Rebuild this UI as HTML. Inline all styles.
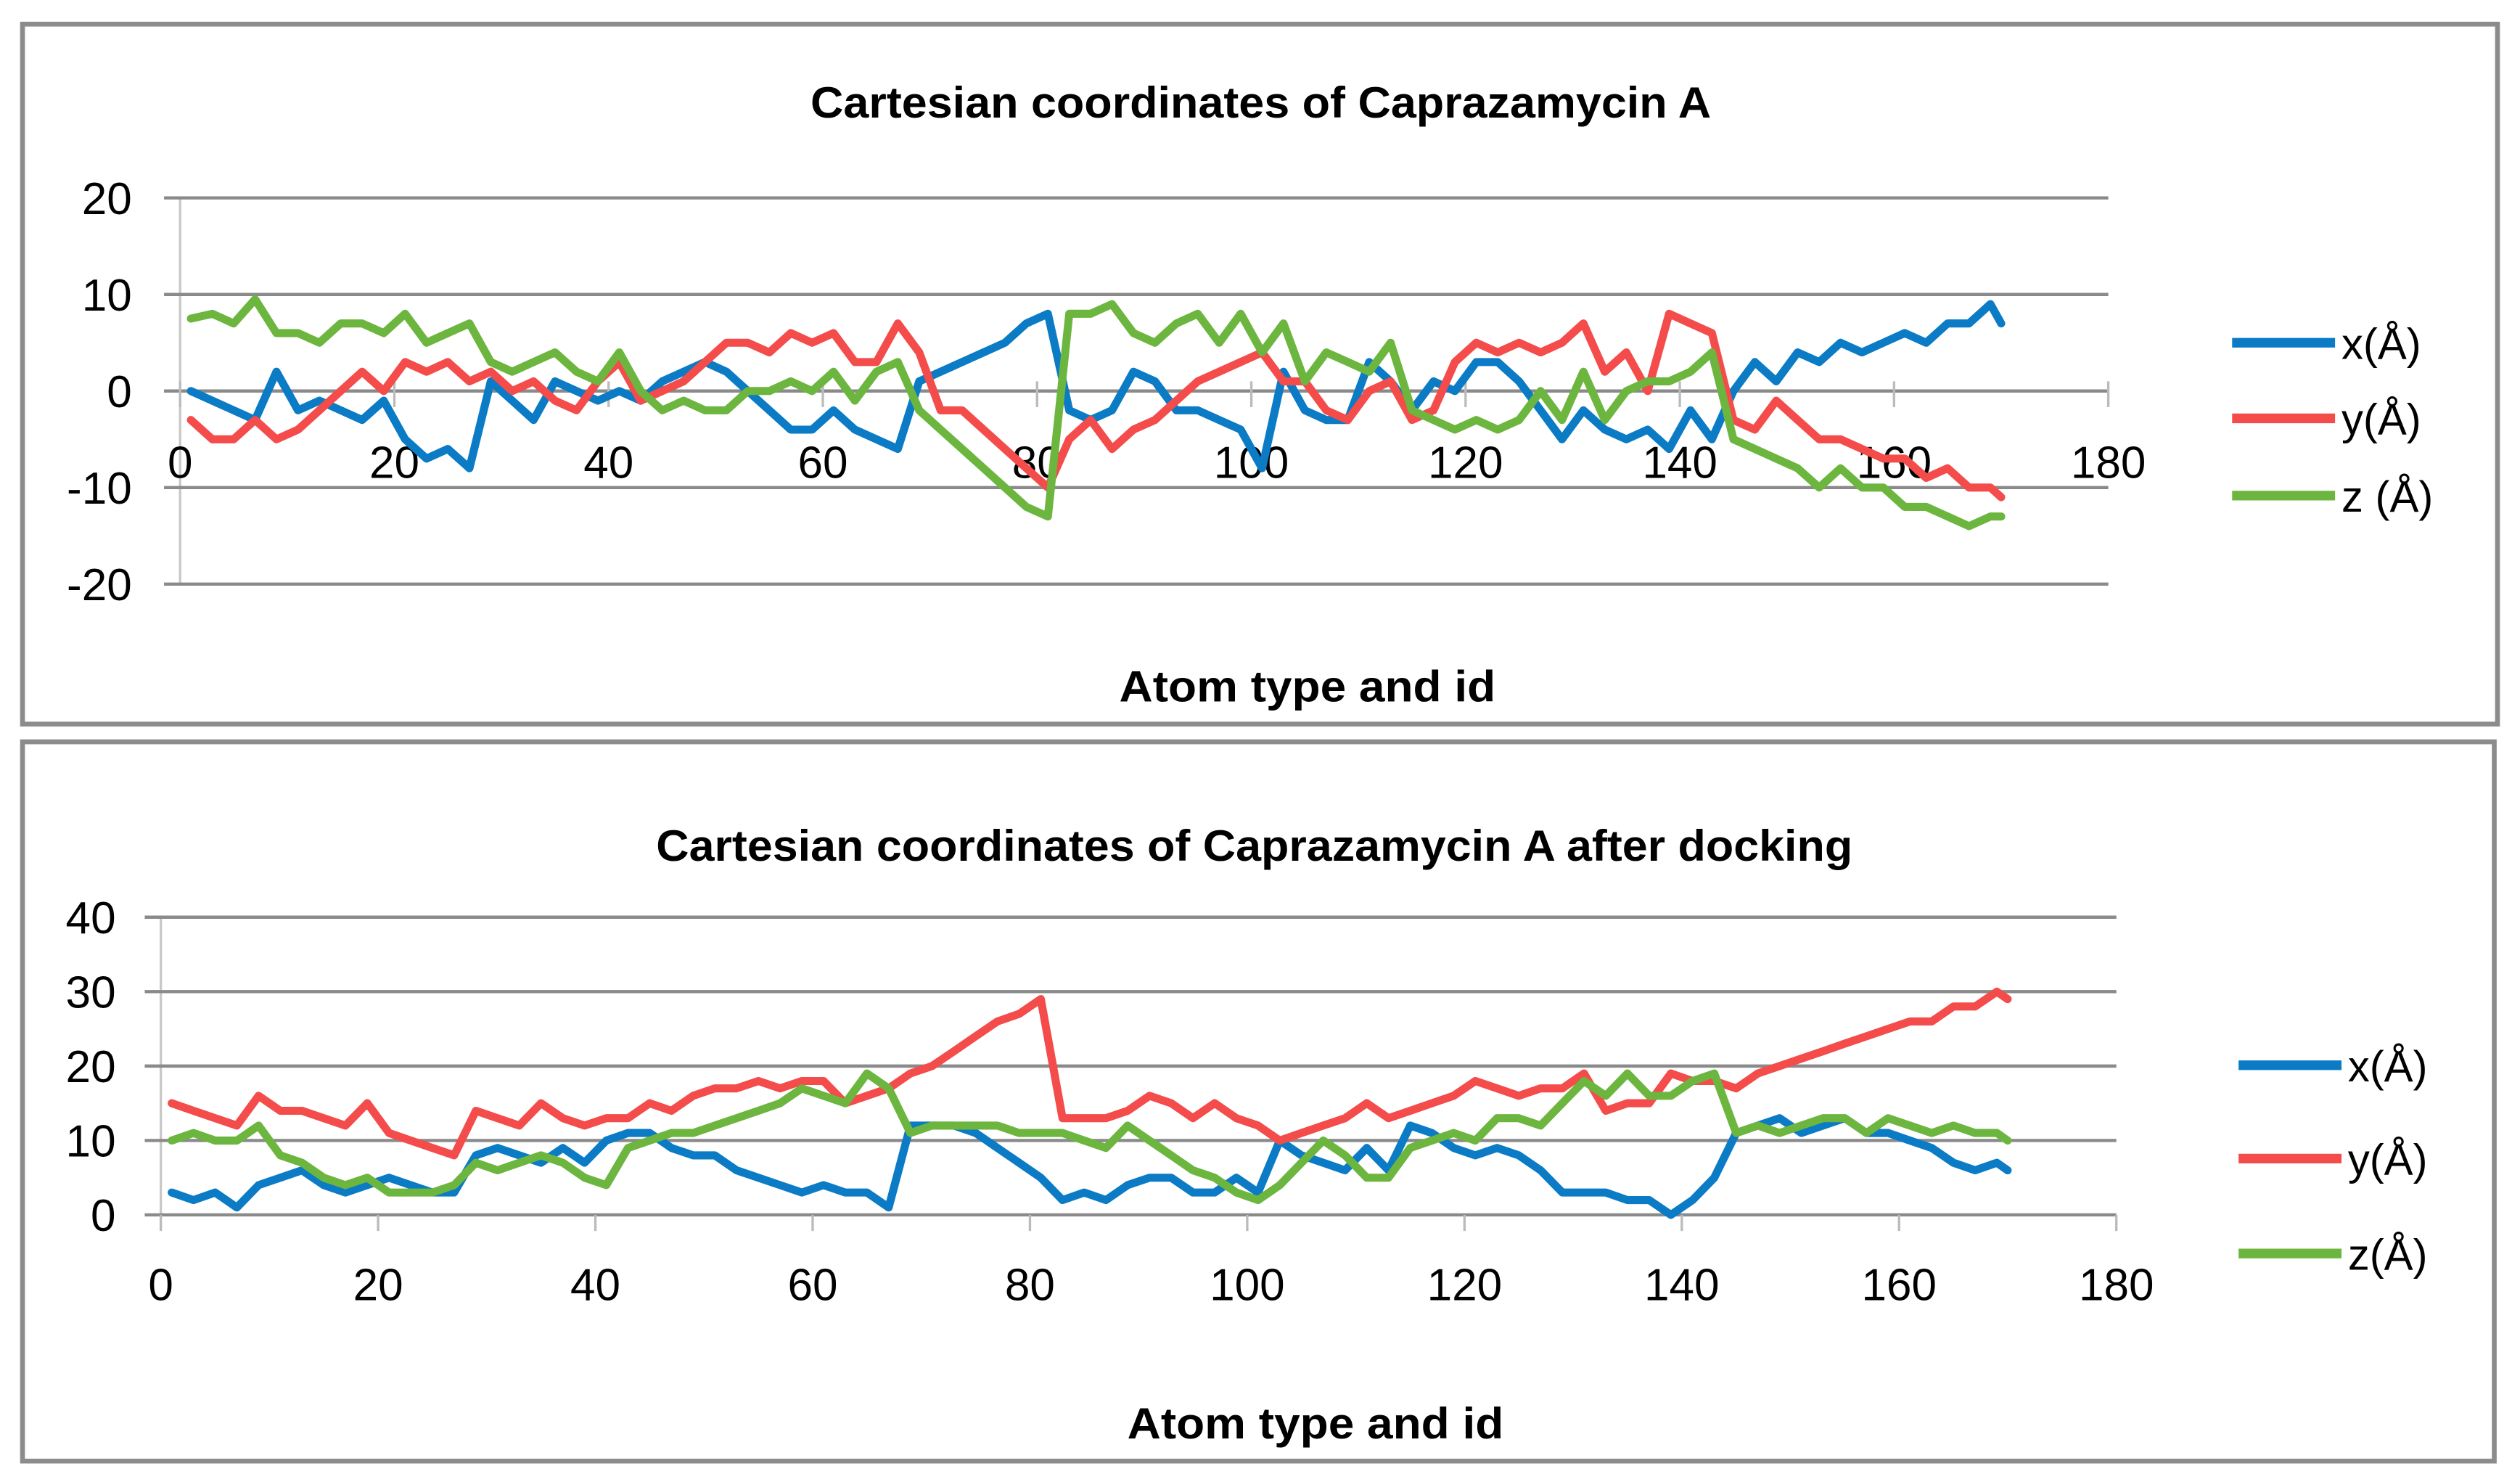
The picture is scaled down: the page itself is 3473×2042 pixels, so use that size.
<!DOCTYPE html>
<html><head><meta charset="utf-8"><style>html,body{margin:0;padding:0;background:#fff}svg{display:block}text{font-family:"Liberation Sans",sans-serif;fill:#000}</style></head>
<body>
<svg id="root" width="3473" height="2042" viewBox="0 0 1567 921" preserveAspectRatio="none" xmlns="http://www.w3.org/2000/svg">
<rect x="0" y="0" width="1567" height="921" fill="#fff"/>
<rect x="14" y="15" width="1539" height="435" fill="#fff" stroke="#8c8c8c" stroke-width="3"/>
<rect x="14" y="461" width="1537" height="447" fill="#fff" stroke="#8c8c8c" stroke-width="3"/>
<text x="784" y="73" font-size="27" font-weight="bold" text-anchor="middle" textLength="560" lengthAdjust="spacingAndGlyphs">Cartesian coordinates of Caprazamycin A</text>
<text x="813" y="436" font-size="27" font-weight="bold" text-anchor="middle" textLength="234" lengthAdjust="spacingAndGlyphs">Atom type and id</text>
<text x="780" y="535" font-size="27" font-weight="bold" text-anchor="middle" textLength="744" lengthAdjust="spacingAndGlyphs">Cartesian coordinates of Caprazamycin A after docking</text>
<text x="818" y="894" font-size="27" font-weight="bold" text-anchor="middle" textLength="234" lengthAdjust="spacingAndGlyphs">Atom type and id</text>
<g id="c1"></g><g id="c2"></g>
</svg>
<script>
const xs=[1,3,5,7,9,11,13,15,17,19,21,23,25,27,29,31,33,35,37,39,41,43,45,47,49,51,53,55,57,59,61,63,65,67,69,71,73,75,77,79,81,83,85,87,89,91,93,95,97,99,101,103,105,107,109,111,113,115,117,119,121,123,125,127,129,131,133,135,137,139,141,143,145,147,149,151,153,155,157,159,161,163,165,167,169,170];
const x1=[0,-1,-2,-3,2,-2,-1,-2,-3,-1,-5,-7,-6,-8,1,-1,-3,1,0,-1,0,-1,1,2,3,2,0,-2,-4,-4,-2,-4,-5,-6,1,2,3,4,5,7,8,-2,-3,-2,2,1,-2,-2,-3,-4,-8,2,-2,-3,-3,3,1,-2,1,0,3,3,1,-2,-5,-2,-4,-5,-4,-6,-2,-5,0,3,1,4,3,5,4,5,6,5,7,7,9,7];
const y1=[-3,-5,-5,-3,-5,-4,-2,0,2,0,3,2,3,1,2,0,1,-1,-2,1,3,-1,0,1,3,5,5,4,6,5,6,3,3,7,4,-2,-2,-4,-6,-8,-10,-5,-3,-6,-4,-3,-1,1,2,3,4,1,1,-2,-3,0,1,-3,-2,3,5,4,5,4,5,7,2,4,0,8,7,6,-3,-4,-1,-3,-5,-5,-6,-7,-7,-9,-8,-10,-10,-11];
const z1=[7.5,8,7,9.5,6,6,5,7,7,6,8,5,6,7,3,2,3,4,2,1,4,0,-2,-1,-2,-2,0,0,1,0,2,-1,2,3,-2,-4,-6,-8,-10,-12,-13,8,8,9,6,5,7,8,5,8,4,7,1,4,3,2,5,-2,-3,-4,-3,-4,-3,0,-3,2,-3,0,1,1,2,4,-5,-6,-7,-8,-10,-8,-10,-10,-12,-12,-13,-14,-13,-13];
const x2=[3,2,3,1,4,5,6,4,3,4,5,4,3,3,8,9,8,7,9,7,10,11,11,9,8,8,6,5,4,3,4,3,3,1,12,12,12,11,9,7,5,2,3,2,4,5,5,3,3,5,3,10,8,7,6,9,6,12,11,9,8,9,8,6,3,3,3,2,2,0,2,5,11,12,13,11,12,13,11,11,10,9,7,6,7,6];
const y2=[15,14,13,12,16,14,14,13,12,15,11,10,9,8,14,13,12,15,13,12,13,13,15,14,16,17,17,18,17,18,18,15,16,17,19,20,22,24,26,27,29,13,13,13,14,16,15,13,15,13,12,10,11,12,13,15,13,14,15,16,18,17,16,17,17,19,14,15,15,19,18,18,17,19,20,21,22,23,24,25,26,26,28,28,30,29];
const z2=[10,11,10,10,12,8,7,5,4,5,3,3,3,4,7,6,7,8,7,5,4,9,10,11,11,12,13,14,15,17,16,15,19,17,11,12,12,12,12,11,11,11,10,9,12,10,8,6,5,3,2,4,7,10,8,5,5,9,10,11,10,13,13,12,15,18,16,19,16,16,18,19,11,12,11,12,13,13,11,13,12,11,12,11,11,10];
const xTicks=[0,20,40,60,80,100,120,140,160,180];
const yTicks1=[20,10,0,-10,-20];
const yTicks2=[40,30,20,10,0];
const seriesNames=['x(Å)','y(Å)','z (Å)'];
const seriesNames2=['x(Å)','y(Å)','z(Å)'];
const colors=['#0a7bc4','#f44b4b','#6cb63f'];
const NS='http://www.w3.org/2000/svg';
function mk(tag,attrs,parent,txt){const e=document.createElementNS(NS,tag);for(const k in attrs)e.setAttribute(k,attrs[k]);if(txt!==undefined)e.textContent=txt;parent.appendChild(e);return e;}
function draw(g,cfg){
  const sx=v=>cfg.x0+(v-0)/(180)*(cfg.x1-cfg.x0);
  const sy=v=>cfg.yTop+(cfg.yMax-v)/(cfg.yMax-cfg.yMin)*(cfg.yBot-cfg.yTop);
  const va=mk('line',{x1:sx(0),x2:sx(0),y1:cfg.yTop,y2:cfg.yBot,stroke:'#c8c8c8','stroke-width':1.5},g);
  
  
  cfg.yTicks.forEach(t=>{
    const l=mk('line',{x1:cfg.x0-10,x2:cfg.x1,y1:sy(t),y2:sy(t),stroke:'#8a8a8a','stroke-width':2},g);
    
    
    const tx=mk('text',{x:cfg.yLabX,y:sy(t)+10,'font-size':28,'text-anchor':'end'},g,String(t));
    
    
  });
  xTicks.forEach(t=>{
    const l=mk('line',{x1:sx(t),x2:sx(t),y1:sy(cfg.xAxisAt)-(cfg.p==='chart1'?6:0),y2:sy(cfg.xAxisAt)+10,stroke:'#bbbbbb','stroke-width':1.5},g);
    
    
    const tx=mk('text',{x:sx(t),y:cfg.xLabY,'font-size':28,'text-anchor':'middle'},g,String(t));
    
    
  });
  cfg.series.forEach((s,i)=>{
    const d=xs.map((x,j)=>(j?'L':'M')+sx(x).toFixed(1)+','+sy(s[j]).toFixed(1)).join('');
    const p=mk('path',{d:d,fill:'none',stroke:colors[i],'stroke-width':5,'stroke-linejoin':'round','stroke-linecap':'round'},g);
    
    
    const ly=cfg.legY[i];
    const ll=mk('line',{x1:cfg.legX,x2:cfg.legX+64,y1:ly,y2:ly,stroke:colors[i],'stroke-width':6},g);
    
    
    const lt=mk('text',{x:cfg.legX+68,y:ly+10,'font-size':27},g,cfg.names[i]);
    
    
  });
}
draw(document.getElementById('c1'),{p:'chart1',x0:112,x1:1311,yTop:123,yBot:363,yMax:20,yMin:-20,yTicks:yTicks1,yLabX:82,xAxisAt:0,xLabY:297,series:[x1,y1,z1],legX:1388,legY:[213,260,308],names:seriesNames});
draw(document.getElementById('c2'),{p:'chart2',x0:100,x1:1316,yTop:570,yBot:755,yMax:40,yMin:0,yTicks:yTicks2,yLabX:72,xAxisAt:0,xLabY:808,series:[x2,y2,z2],legX:1392,legY:[662,720,779],names:seriesNames2});
</script>
</body></html>
